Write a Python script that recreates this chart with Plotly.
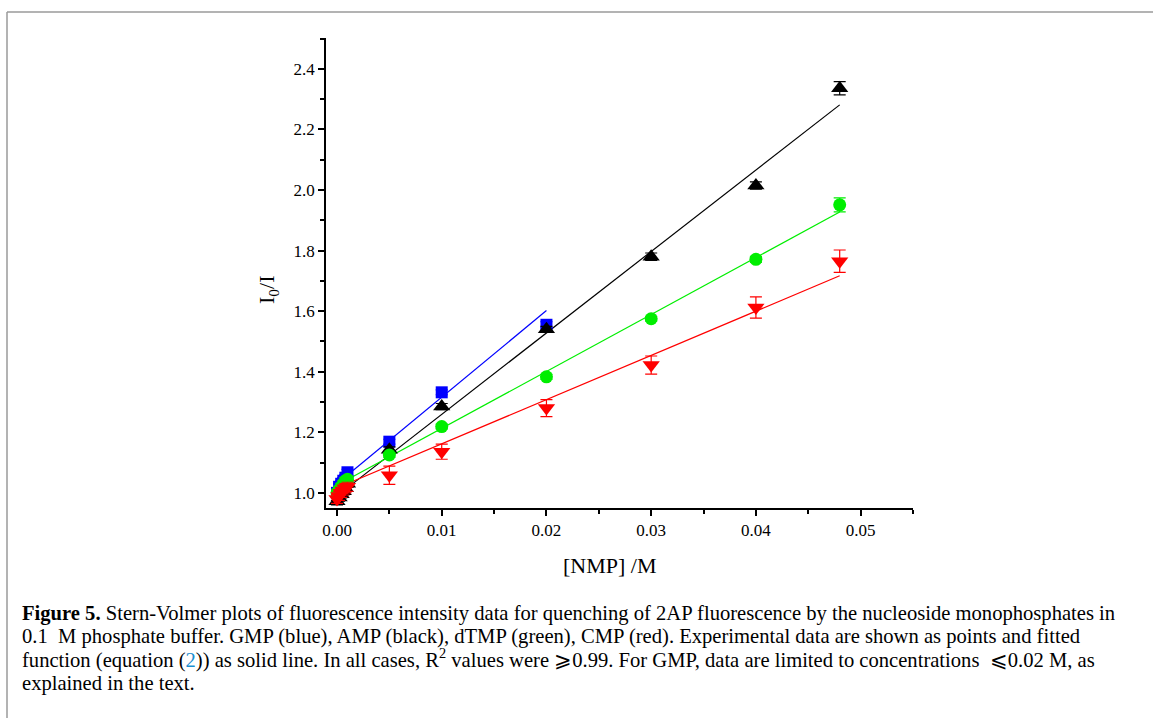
import plotly.graph_objects as go

# ---------------- data ----------------
conc = [0.0, 0.0002, 0.0004, 0.0006, 0.0008, 0.001, 0.005, 0.01, 0.02, 0.03, 0.04, 0.048]
conc_gmp = [0.0, 0.0002, 0.0004, 0.0006, 0.0008, 0.001, 0.005, 0.01, 0.02]

gmp = [1.00, 1.02, 1.03, 1.04, 1.05, 1.068, 1.169, 1.332, 1.555]
gmp_err = [0.01, 0.01, 0.01, 0.01, 0.01, 0.01, 0.008, 0.008, 0.01]

amp = [0.972, 0.985, 0.995, 1.005, 1.015, 1.03, 1.142, 1.285, 1.54, 1.78, 2.015, 2.336]
amp_err = [0.012, 0.012, 0.012, 0.012, 0.012, 0.012, 0.01, 0.01, 0.01, 0.012, 0.012, 0.022]

dtmp = [1.0, 1.01, 1.02, 1.03, 1.04, 1.045, 1.125, 1.219, 1.383, 1.575, 1.771, 1.951]
dtmp_err = [0.01, 0.01, 0.01, 0.01, 0.01, 0.01, 0.008, 0.008, 0.008, 0.008, 0.01, 0.023]

cmp_ = [0.98, 0.99, 1.0, 1.008, 1.015, 1.02, 1.058, 1.136, 1.28, 1.422, 1.612, 1.765]
cmp_err = [0.015, 0.015, 0.015, 0.015, 0.015, 0.015, 0.03, 0.025, 0.028, 0.03, 0.035, 0.037]

# Stern-Volmer fits: I0/I = intercept + slope*[NMP]
fit_names = ["GMP", "AMP", "dTMP", "CMP"]
fit_intercepts = [1.03, 0.99, 1.025, 1.016]
fit_slopes = [28.6, 26.9, 18.8, 14.6]
fit_xmax = [0.02, 0.048, 0.048, 0.048]

colors = ["#0000ff", "#000000", "#00ee00", "#ff0000"]
symbols = ["square", "triangle-up", "circle", "triangle-down"]
sizes = [12, 15, 13, 15]

series_x = [conc_gmp, conc, conc, conc]
series_y = [gmp, amp, dtmp, cmp_]
series_e = [gmp_err, amp_err, dtmp_err, cmp_err]

x_ticks = [0.0, 0.01, 0.02, 0.03, 0.04, 0.05]
y_ticks = [1.0, 1.2, 1.4, 1.6, 1.8, 2.0, 2.2, 2.4]

fig = go.Figure()

for i in range(4):
    xs = [0.0, fit_xmax[i]]
    ys = [fit_intercepts[i] + fit_slopes[i] * x for x in xs]
    fig.add_trace(go.Scatter(x=xs, y=ys, mode="lines",
                             line=dict(color=colors[i], width=1.2),
                             showlegend=False, hoverinfo="skip"))

for i in range(4):
    fig.add_trace(go.Scatter(
        x=series_x[i], y=series_y[i], mode="markers", name=fit_names[i],
        marker=dict(symbol=symbols[i], color=colors[i], size=sizes[i],
                    line=dict(width=0)),
        error_y=dict(type="data", array=series_e[i], color=colors[i],
                     thickness=1.2, width=6),
        showlegend=False))

W, H = 1153, 718
L, R, T, B = 326, 913, 38, 508
SERIF = "'Liberation Serif', 'Times New Roman', serif"

fig.update_layout(
    width=W, height=H,
    margin=dict(l=L, r=W - R, t=T, b=H - B, pad=0),
    paper_bgcolor="white", plot_bgcolor="white",
    font=dict(family=SERIF, size=17, color="black"),
    showlegend=False,
)

fig.update_xaxes(
    range=[-0.00105, 0.0550], tickvals=x_ticks,
    ticktext=[f"{v:.2f}" for v in x_ticks],
    ticks="outside", ticklen=6, tickwidth=1.5, tickcolor="black",
    showline=True, linecolor="black", linewidth=1.5,
    showgrid=False, zeroline=False,
    minor=dict(tickvals=[0.005, 0.015, 0.025, 0.035, 0.045, 0.055],
               ticks="outside", ticklen=4, tickwidth=1.5, tickcolor="black"),
    tickfont=dict(size=17, family=SERIF),
)
fig.update_yaxes(
    range=[0.95, 2.502], tickvals=y_ticks,
    ticktext=[f"{v:.1f}" for v in y_ticks],
    ticks="outside", ticklen=6, tickwidth=1.5, tickcolor="black",
    showline=True, linecolor="black", linewidth=1.5,
    showgrid=False, zeroline=False,
    minor=dict(tickvals=[1.1, 1.3, 1.5, 1.7, 1.9, 2.1, 2.3, 2.5],
               ticks="outside", ticklen=4, tickwidth=1.5, tickcolor="black"),
    tickfont=dict(size=17, family=SERIF),
)

def px_x(p):
    return (p - L) / (R - L)

def px_y(p):
    return (B - p) / (B - T)

annotations = [
    dict(text="[NMP] /M", x=px_x(610), y=px_y(565), xref="paper", yref="paper",
         showarrow=False, font=dict(size=22, family=SERIF), xanchor="center", yanchor="middle"),
    dict(text="I<sub>0</sub>/I", x=px_x(268), y=px_y(290), xref="paper", yref="paper",
         showarrow=False, font=dict(size=22, family=SERIF), textangle=-90,
         xanchor="center", yanchor="middle"),
]

caption = [
    "<b>Figure 5.</b> Stern-Volmer plots of fluorescence intensity data for quenching of 2AP fluorescence by the nucleoside monophosphates in",
    "0.1  M phosphate buffer. GMP (blue), AMP (black), dTMP (green), CMP (red). Experimental data are shown as points and fitted",
    "function (equation (<span style='color:#1a8fd0'>2</span>)) as solid line. In all cases, R<sup>2</sup> values were \u2a7e0.99. For GMP, data are limited to concentrations  \u2a7d0.02 M, as",
    "explained in the text.",
]
cap_y = [613, 636, 658, 683]
for txt, yy in zip(caption, cap_y):
    annotations.append(dict(text=txt, x=px_x(20), y=px_y(yy), xref="paper", yref="paper",
                            showarrow=False, xanchor="left", yanchor="middle",
                            font=dict(size=20.6, family=SERIF)))

fig.update_layout(annotations=annotations)

fig.update_layout(shapes=[
    dict(type="line", xref="paper", yref="paper", x0=px_x(7), x1=px_x(1153),
         y0=px_y(12), y1=px_y(12), line=dict(color="#9a9a9a", width=1.5)),
    dict(type="line", xref="paper", yref="paper", x0=px_x(7), x1=px_x(7),
         y0=px_y(12), y1=px_y(718), line=dict(color="#9a9a9a", width=1.5)),
])

fig.write_html("out.html", config={"displayModeBar": False},
               post_script="document.body.style.margin='0';document.body.style.overflow='hidden';")
